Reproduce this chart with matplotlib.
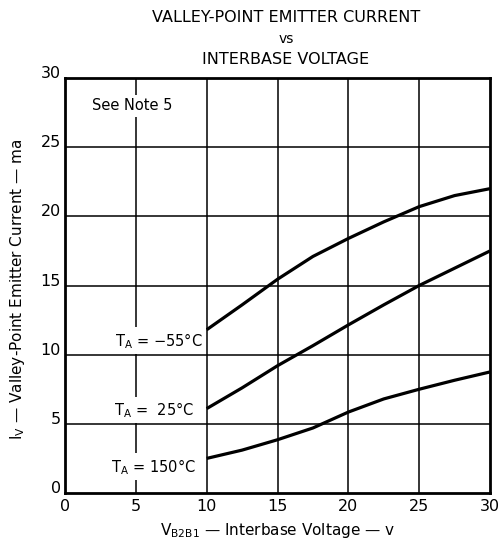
import matplotlib
matplotlib.use("Agg")
import matplotlib.pyplot as plt

# Data
v_m55 = [10, 12.5, 15, 17.5, 20, 22.5, 25, 27.5, 30]
i_m55 = [11.8, 13.6, 15.45, 17.1, 18.4, 19.6, 20.7, 21.5, 22.0]

v_25 = [10, 12.5, 15, 17.5, 20, 22.5, 25, 27.5, 30]
i_25 = [6.1, 7.6, 9.2, 10.65, 12.15, 13.6, 15.0, 16.25, 17.5]

v_150 = [10, 12.5, 15, 17.5, 20, 22.5, 25, 27.5, 30]
i_150 = [2.5, 3.1, 3.85, 4.7, 5.85, 6.8, 7.5, 8.15, 8.75]

x_ticks = [0, 5, 10, 15, 20, 25, 30]
y_ticks = [0, 5, 10, 15, 20, 25, 30]

labels = [r"T$_\mathregular{A}$ = −55°C", r"T$_\mathregular{A}$ =  25°C", r"T$_\mathregular{A}$ = 150°C"]
label_pos = [(9.7, 11.0), (9.1, 6.0), (9.2, 1.9)]

fig = plt.figure(figsize=(5.03, 5.40), dpi=100)
ax = fig.add_axes([65/503, 1 - 493/540, 425/503, 415/540])

ax.set_xlim(0, 30)
ax.set_ylim(0, 30)

for x in x_ticks[1:-1]:
    ax.axvline(x, color="black", lw=1.1, zorder=1)
for y in y_ticks[1:-1]:
    ax.axhline(y, color="black", lw=1.1, zorder=1)

for v, i in [(v_m55, i_m55), (v_25, i_25), (v_150, i_150)]:
    ax.plot(v, i, color="black", lw=2.3, zorder=3, solid_capstyle="butt",
            solid_joinstyle="round")

for lab, (lx, ly) in zip(labels, label_pos):
    ax.text(lx, ly, lab, ha="right", va="center", fontsize=10.5, zorder=4,
            bbox=dict(facecolor="white", edgecolor="none", pad=2.5))

ax.text(1.9, 28.0, "See Note 5", ha="left", va="center", fontsize=10.5, zorder=4,
        bbox=dict(facecolor="white", edgecolor="none", pad=2.5))

ax.set_xticks(x_ticks)
ax.set_yticks(y_ticks)
ax.set_xticklabels([str(t) for t in x_ticks])
ax.set_yticklabels([str(t) for t in y_ticks], va="baseline")
ax.tick_params(axis="y", length=0, labelsize=11.5, pad=3)
ax.tick_params(axis="x", length=0, labelsize=11.5, pad=4)
for s in ax.spines.values():
    s.set_linewidth(2.0)
    s.set_zorder(5)

ax.set_xlabel(r"V$_\mathregular{B2B1}$ — Interbase Voltage — v", fontsize=11)
ax.xaxis.set_label_coords(0.5, -37/415)
ax.xaxis.label.set_va("center")
ax.set_ylabel(r"I$_\mathregular{V}$ — Valley-Point Emitter Current — ma", fontsize=11)
ax.yaxis.set_label_coords(-47/425, 0.49)
ax.yaxis.label.set_va("center")

fig.text(286/503, 1 - 17/540, "VALLEY-POINT EMITTER CURRENT", ha="center", va="center", fontsize=11.5)
fig.text(286/503, 1 - 39/540, "vs", ha="center", va="center", fontsize=10)
fig.text(286/503, 1 - 59/540, "INTERBASE VOLTAGE", ha="center", va="center", fontsize=11.5)

fig.savefig("out.png", dpi=100)
